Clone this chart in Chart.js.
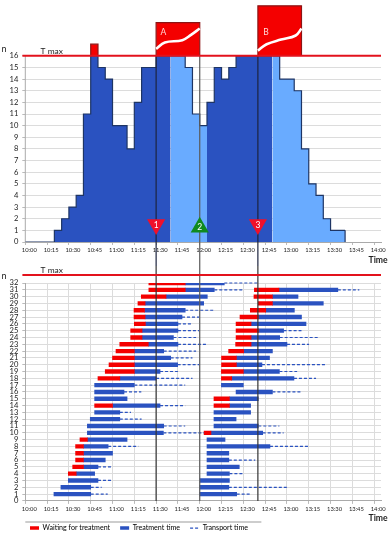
<!DOCTYPE html>
<html>
<head>
<meta charset="utf-8">
<title>Patient load</title>
<script src="https://cdn.jsdelivr.net/npm/chart.js@4/dist/chart.umd.min.js"></script>
<style>
  html, body { margin: 0; padding: 0; background: #fff; }
  canvas { display: block; }
  /* the y scale keeps 7px above its top tick, the boxes need that room */
  #load { margin-top: -7px; }
</style>
</head>
<body>
<canvas id="load" width="392" height="273"></canvas>
<canvas id="rows" width="392" height="274"></canvas>
<script>
// all times are minutes after 10:00
const timeLabels = ['10:00', '10:15', '10:30', '10:45', '11:00', '11:15', '11:30', '11:45', '12:00',
  '12:15', '12:30', '12:45', '13:00', '13:15', '13:30', '13:45', '14:00'];

// upper chart: patients present, capped at T max. Each count holds up to its own time.
const stepTimes = [0, 20, 25, 30, 35, 40, 45, 50, 55, 60, 70, 75, 80, 90, 100, 110, 115, 120, 125, 130, 135, 140, 145, 170, 175, 185, 190, 195, 200, 205, 210, 220, 220];
const stepCounts = [0, 0, 1, 2, 3, 4, 11, 16, 15, 14, 10, 8, 12, 15, 16, 16, 15, 11, 10, 12, 15, 14, 15, 16, 16, 14, 13, 8, 5, 4, 2, 1, 0];
const lightPhases = [[100, 125], [170, 220]];

const tMax = 16;
const peakBox = { from: 45, to: 50, top: 17 };
const boxA = { from: 90, to: 120, top: 18.85 };
const boxB = { from: 160, to: 190, top: 20.3 };
const waveA = [[90, 16.6], [96, 17.15], [108, 17.35], [114, 17.8], [120, 18.35]];
const waveB = [[160, 16.45], [166, 17], [176, 17.4], [186, 17.75], [190, 18.35]];

const eventTimes = [90, 120, 160];
const eventLabels = ['1', '2', '3'];
const eventHeights = [1.5, 1.27, 1.5];

// lower chart: one row per patient, two waves of treatment
const rowNumbers = [1, 2, 3, 4, 5, 6, 7, 8, 9, 10, 11, 12, 13, 14, 15, 16, 17, 18, 19, 20, 21, 22, 23, 24, 25, 26, 27, 28, 29, 30, 31, 32];

const waitStartA = [null, null, null, 29.6, 32.6, 34.6, 34.6, 34.6, 37.6, null, null, null, null, 47.7, null, null, null, 50, 55, 57.6, 60, 62.4, 65, 72.5, 72.5, 75, 74.8, 74.8, 77.5, 79.8, 85, 85];
const treatStartA = [19.7, 24.5, 29.6, 35, 40, 40, 40, 40, 42.7, 42.7, 42.7, 44.7, 47.7, 60, 47.7, 47.7, 47.7, 65, 75, 75, 75, 75, 84.6, 80.3, 80.3, 82.6, 82.4, 82, 82.4, 96.8, 110, 110];
const treatEndA = [45, 45, 50, 47.7, 50, 55, 60, 57, 70, 95, 95.2, 65, 65, 92.7, 70, 67.9, 75, 90, 92.7, 104.8, 100, 95.2, 105, 101.9, 105, 105, 107.8, 110, 122.7, 125.2, 130, 136.9];
const transportEndA = [56.7, 52.5, 60, null, 60, null, null, 77.8, null, 123, 110, 80, 72.7, 110, null, 79.8, 110, 115, 105, 119.7, 115, 117.5, 125.2, 117.5, 119.7, 115, 119.7, 129.8, null, null, 149.5, 160.3];

const waitStartB = [null, null, null, null, null, null, null, null, null, 123, null, null, null, 129.8, 129.8, null, null, 134.9, 134.9, 135, 135, 139.9, 144.7, 145, 145, 145, 147.7, 154.8, 160.3, 157.3, 157.6, null];
const treatStartB = [120, 120, 120.2, 125, 125, 125, 125, 125, 125, 127.7, 129.8, 129.8, 129.8, 140.4, 140.4, 145, 134.9, 142, 150, 145.2, 145.2, 150.2, 155.3, 155.3, 160.3, 155.3, 160.3, 165.4, 170, 170, 174.5, null];
const treatEndB = [145.4, 140, 140.4, 140.4, 147.2, 140, 140, 168.3, 137.4, 163.3, 160.3, 145, 155, 155, 160.3, 170, 150, 184.8, 174.8, 162.8, 168, 170, 180, 175, 177.7, 193.1, 190, 185.1, 205, 187.6, 215, null];
const transportEndB = [155, 180, null, 150, null, 158.2, null, 195.2, null, 177.7, 174.8, null, null, null, null, 190, null, 200, 187, 207.3, null, null, 195.2, 202, 190, null, null, null, null, null, 229.8, null];

const legendNames = ['Waiting for treatment', 'Treatment time', 'Transport time'];

const RED = '#f40000';
const BLUE = '#2a52c0';
const LIGHT_BLUE = '#69abff';
const OUTLINE = '#1e3564';
const GRID = '#dcdcdc';
const AXIS_END = 244.7;

Chart.defaults.font.family = 'Lato, "Liberation Sans", sans-serif';
Chart.defaults.color = '#222';
Chart.defaults.animation = false;

const toPoints = (pairs) => pairs.map(([x, y]) => ({ x, y }));
const boxPoints = (b) => toPoints([[b.from, tMax], [b.from, b.top], [b.to, b.top], [b.to, tMax]]);

// straight helper series drawn past the plot area (T max, event lines)
function guide(points, color, width) {
    return {
        type: 'line', indexAxis: 'x', data: toPoints(points), borderColor: color, borderWidth: width,
        pointRadius: 0, fill: false, clip: false, tension: 0,
    };
}

function overflowBox(box) {
    return {
        type: 'line', data: boxPoints(box), borderColor: '#8c1414', borderWidth: 1.2, backgroundColor: RED,
        pointRadius: 0, fill: { value: tMax }, tension: 0,
    };
}

function wave(points) {
    return {
        type: 'line', data: toPoints(points), borderColor: '#fff', borderWidth: 2.6, pointRadius: 0, tension: 0.4, fill: false,
    };
}

function timeAxis(gridOn, height) {
    return {
        type: 'linear', min: 0, max: AXIS_END, offset: false,
        afterFit: (s) => { s.height = height; s.paddingLeft = 0; s.paddingRight = 0; },
        grid: { offset: false, drawOnChartArea: gridOn, color: GRID, tickLength: 3, tickColor: '#bbb', lineWidth: 1 },
        border: { color: '#aaa' },
        ticks: {
            stepSize: 5, includeBounds: false, autoSkip: false, maxRotation: 0, minRotation: 0, padding: 2, labelOffset: 4,
            font: { size: 5.8 },
            callback: (v) => (v % 15 === 0 ? timeLabels[v / 15] : null),
        },
    };
}

function countAxis(max, showTick, borderOn) {
    const tickColor = (c) => (showTick(c.tick.value) ? '#bbb' : 'transparent');
    return {
        type: 'linear', min: 0, max, offset: false,
        afterFit: (s) => { s.width = 25.3; s.paddingTop = 0; s.paddingBottom = 0; },
        grid: { offset: false, color: (c) => (showTick(c.tick.value) ? GRID : 'transparent'), tickLength: 3, tickColor, lineWidth: 1 },
        border: { display: borderOn, color: '#aaa' },
        ticks: {
            stepSize: 1, includeBounds: false, autoSkip: false, padding: 4, font: { size: 7.6 },
            callback: (v) => (showTick(v) ? String(v) : null),
        },
    };
}

// free standing text placed in data space, so it follows the scales
const textsPlugin = {
    id: 'texts',
    afterDatasetsDraw(chart, _args, opts) {
        const { ctx, scales } = chart;
        ctx.save();
        ctx.textBaseline = 'middle';
        ctx.textAlign = 'center';
        for (const t of opts.items) {
            ctx.font = `${t.bold ? '700 ' : ''}${t.size}px Lato, "Liberation Sans", sans-serif`;
            ctx.fillStyle = t.color || '#222';
            ctx.fillText(t.text, scales.x.getPixelForValue(t.x), scales.y.getPixelForValue(t.y));
        }
        ctx.restore();
    },
};

// legend row starts under the plot, not at the canvas edge
const legendInset = {
    id: 'legendInset',
    afterLayout(chart) {
        chart.legend.left = 20;
        chart.legend.top += 1.6;
    },
};

function isLight(x) {
    return lightPhases.some(([from, to]) => x >= from && x < to);
}

// Chart.js paints the first dataset last, so the lists below run from top layer to bottom layer
const loadChart = new Chart(document.getElementById('load'), {
    type: 'line',
    data: {
        datasets: [
            {
                type: 'line', showLine: false,
                data: eventTimes.map((x, i) => ({ x, y: eventHeights[i] })),
                pointStyle: 'triangle', pointRadius: 10.5, pointBorderWidth: 0,
                pointRotation: [180, 0, 180],
                pointBackgroundColor: ['#f0102a', '#0f8a1e', '#f0102a'],
            },
            guide([[-2, tMax], [AXIS_END, tMax]], '#e3121c', 2),
            guide([[eventTimes[0], tMax], [eventTimes[0], -2.06]], '#1d2540', 1.2),
            guide([[eventTimes[1], tMax], [eventTimes[1], -2.06]], '#5a5a5a', 1.2),
            guide([[eventTimes[2], tMax], [eventTimes[2], -2.06]], '#1d2540', 1.2),
            wave(waveA),
            wave(waveB),
            overflowBox(peakBox),
            overflowBox(boxA),
            overflowBox(boxB),
            {
                label: 'Patients', data: stepTimes.map((x, i) => ({ x, y: stepCounts[i] })), stepped: 'after',
                borderColor: OUTLINE, borderWidth: 1.2, backgroundColor: BLUE, fill: 'origin', pointRadius: 0,
                segment: { backgroundColor: (c) => (isLight(c.p0.parsed.x) ? LIGHT_BLUE : BLUE) },
            },
            guide([[0, 0], [0, tMax]], '#aaa', 1),
        ],
    },
    options: {
        responsive: false,
        layout: { padding: { top: 3.4, right: 11, left: 0, bottom: 0 } },
        plugins: {
            legend: { display: false },
            tooltip: { enabled: false },
            texts: {
                items: [
                    { text: 'n', x: -14.7, y: 16.6, size: 9 },
                    { text: 'T max', x: 18.2, y: 16.4, size: 8.4 },
                    { text: 'Time', x: 242.7, y: -1.55, size: 8.6, bold: true },
                    { text: 'A', x: 95, y: 18, size: 8.5, color: '#ffd8d8' },
                    { text: 'B', x: 165.6, y: 18, size: 8.5, color: '#ffd8d8' },
                    { text: eventLabels[0], x: eventTimes[0], y: 1.45, size: 8.5, color: '#fff' },
                    { text: eventLabels[1], x: eventTimes[1], y: 1.3, size: 8.5, color: '#fff' },
                    { text: eventLabels[2], x: eventTimes[2], y: 1.45, size: 8.5, color: '#fff' },
                ],
            },
        },
        scales: {
            x: timeAxis(false, 24),
            y: countAxis(20.5, (v) => v <= tMax, false),
        },
    },
    plugins: [textsPlugin],
});

function spanBars(starts, ends, color) {
    const data = [];
    rowNumbers.forEach((row, i) => {
        if (starts[i] !== null && ends[i] !== null) data.push({ y: row, x: [starts[i], ends[i]] });
    });
    return { data, backgroundColor: color, barThickness: 3.7, grouped: false, indexAxis: 'y' };
}

// one dashed series for all rows, null points break it between transports
function transportPoints() {
    const points = [];
    const add = (from, to, row) => {
        if (to !== null && from !== null) points.push({ x: from, y: row }, { x: to, y: row }, { x: null, y: null });
    };
    rowNumbers.forEach((row, i) => {
        add(treatEndA[i], transportEndA[i], row);
        add(treatEndB[i], transportEndB[i], row);
    });
    return points;
}

const rowsChart = new Chart(document.getElementById('rows'), {
    type: 'bar',
    data: {
        datasets: [
            guide([[-2, 33.18], [AXIS_END, 33.18]], '#e3121c', 2),
            guide([[0, -3.09], [162.4, -3.09]], '#bdbdbd', 1.5),
            guide([[eventTimes[0], 35], [eventTimes[0], 0]], '#333', 1.2),
            guide([[eventTimes[1], 35], [eventTimes[1], 0]], '#5a5a5a', 1.2),
            guide([[eventTimes[2], 35], [eventTimes[2], 0]], '#333', 1.2),
            {
                type: 'line', indexAxis: 'x', data: transportPoints(), borderColor: BLUE, borderWidth: 1.2,
                borderDash: [3, 2], pointRadius: 0, fill: false, spanGaps: false, clip: false,
            },
            spanBars(waitStartA, treatStartA, RED),
            spanBars(treatStartA, treatEndA, BLUE),
            spanBars(waitStartB, treatStartB, RED),
            spanBars(treatStartB, treatEndB, BLUE),
        ],
    },
    options: {
        responsive: false,
        indexAxis: 'y',
        layout: { padding: { top: 17, right: 11, left: 0, bottom: 0 } },
        plugins: {
            tooltip: { enabled: false },
            legend: {
                position: 'bottom', align: 'start',
                labels: {
                    boxWidth: 9, boxHeight: 4, padding: 10, usePointStyle: true, pointStyleWidth: 9, font: { size: 7.1 },
                    generateLabels: () => [
                        { text: legendNames[0], pointStyle: 'line', strokeStyle: RED, fillStyle: RED, lineWidth: 3.5 },
                        { text: legendNames[1], pointStyle: 'line', strokeStyle: BLUE, fillStyle: BLUE, lineWidth: 3.5 },
                        { text: legendNames[2], pointStyle: 'line', strokeStyle: BLUE, fillStyle: BLUE, lineWidth: 1.2, lineDash: [3, 2] },
                    ],
                },
            },
            texts: {
                items: [
                    { text: 'n', x: -14.7, y: 32.98, size: 9 },
                    { text: 'T max', x: 18.2, y: 33.8, size: 8.4 },
                    { text: 'Time', x: 242.7, y: -2.54, size: 8.6, bold: true },
                ],
            },
        },
        scales: {
            x: timeAxis(true, 12),
            y: countAxis(32, () => true, true),
        },
    },
    plugins: [textsPlugin, legendInset],
});
</script>
</body>
</html>
